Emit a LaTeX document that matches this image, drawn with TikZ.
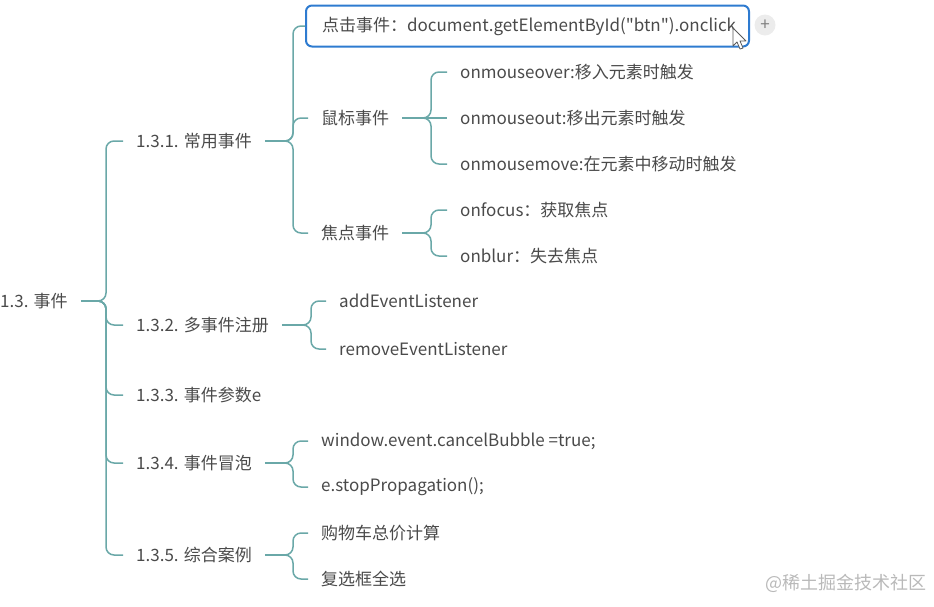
\documentclass[tikz,border=0pt]{standalone}
\usepackage{fontspec}
\newfontfamily\mf{Noto Sans CJK SC}
\definecolor{txt}{HTML}{4A4A4A}
\definecolor{linkc}{HTML}{6AA8A8}
\definecolor{sel}{HTML}{2E7BD0}
\begin{document}
\begin{tikzpicture}[x=1pt,y=-1pt,
  every node/.style={font=\mf\fontsize{17}{20}\selectfont, text=txt},
  topic/.style={anchor=west, inner xsep=13pt, inner ysep=2pt},
  link/.style={draw=linkc, line width=1.5pt},
  branch/.style={link, rounded corners=8pt}]
\useasboundingbox (0,0) rectangle (934,606);
% level 0 and 1
\node[topic] (root) at (-13,301) {1.3. 事件};
\node[topic] (a1) at (123,141) {1.3.1. 常用事件};
\node[topic] (a2) at (123,325) {1.3.2. 多事件注册};
\node[topic] (a3) at (123,395) {1.3.3. 事件参数e};
\node[topic] (a4) at (123,463) {1.3.4. 事件冒泡};
\node[topic] (a5) at (123,555) {1.3.5. 综合案例};
% level 2
\node[draw=sel, line width=2pt, rounded corners=6pt, anchor=west, minimum height=41pt,
      inner xsep=16pt, text width=411pt, align=left] (b0) at (305,26) {\mbox{点击事件：document.getElementById("btn").onclick}};
\node[topic] (b1) at (308,118) {鼠标事件};
\node[topic] (b2) at (308,233) {焦点事件};
\node[topic] (c1) at (447,72) {onmouseover:移入元素时触发};
\node[topic] (c2) at (447,118) {onmouseout:移出元素时触发};
\node[topic] (c3) at (447,164) {onmousemove:在元素中移动时触发};
\node[topic] (d1) at (447,210) {onfocus：获取焦点};
\node[topic] (d2) at (447,256) {onblur：失去焦点};
\node[topic] (e1) at (326,301) {addEventListener};
\node[topic] (e2) at (326,349) {removeEventListener};
\node[topic] (f1) at (308,441) {window.event.cancelBubble =true;};
\node[topic] (f2) at (308,487) {e.stopPropagation();};
\node[topic] (g1) at (308,533) {购物车总价计算};
\node[topic] (g2) at (308,579) {复选框全选};
% junctions
\coordinate (j0) at (100,301);
\coordinate (j1) at (287,141);
\coordinate (j11) at (425,118);
\coordinate (j12) at (425,233);
\coordinate (j2) at (305,325);
\coordinate (j4) at (287,463);
\coordinate (j5) at (287,555);
% connectors
\draw[link] (root.east) -- (j0);
\foreach \c in {a1,a2,a3,a4,a5} \draw[branch] (j0) -- ++(6,0) |- (\c.west);
\draw[link] (a1.east) -- (j1);
\foreach \c in {b0,b1,b2} \draw[branch] (j1) -- ++(6,0) |- (\c.west);
\draw[link] (b1.east) -- (j11);
\foreach \c in {c1,c3} \draw[branch] (j11) -- ++(6,0) |- (\c.west);
\draw[link] (j11) -- (c2.west);
\draw[link] (b2.east) -- (j12);
\foreach \c in {d1,d2} \draw[branch] (j12) -- ++(6,0) |- (\c.west);
\draw[link] (a2.east) -- (j2);
\foreach \c in {e1,e2} \draw[branch] (j2) -- ++(6,0) |- (\c.west);
\draw[link] (a4.east) -- (j4);
\foreach \c in {f1,f2} \draw[branch] (j4) -- ++(6,0) |- (\c.west);
\draw[link] (a5.east) -- (j5);
\foreach \c in {g1,g2} \draw[branch] (j5) -- ++(6,0) |- (\c.west);
% plus icon and cursor
\node[circle, fill=gray!15, minimum size=21pt, inner sep=0pt, text=gray, font=\mf\fontsize{17}{17}\selectfont] (plus) at (765,25) {+};
\draw[fill=white, draw=gray!70!black, line width=0.8pt, line join=round]
  (733,28) -- (733,46) -- (737,42) -- (740,49) -- (743,48) -- (740,41) -- (746,41) -- cycle;
% watermark
\node[anchor=west, inner sep=0pt, text=gray!55, font=\mf\fontsize{18}{20}\selectfont] (wm) at (765,583) {@稀土掘金技术社区};
\end{tikzpicture}
\end{document}
